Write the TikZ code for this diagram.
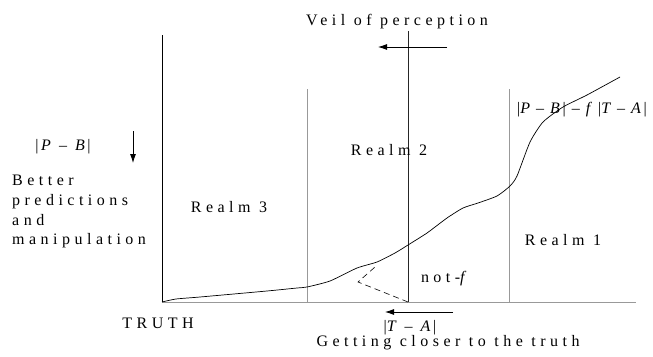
\documentclass[tikz,border=0pt]{standalone}
\usepackage{fontspec}
\setmainfont{Liberation Serif}
\newfontfamily\spacedfont[LetterSpace=28]{Liberation Serif}
\usetikzlibrary{arrows.meta}
\newcommand{\gapm}{\hspace{6pt}}
\begin{document}
\begin{tikzpicture}[x=1pt,y=-1pt,
    lbl/.style={font=\spacedfont\fontsize{16}{19}\selectfont, inner sep=0pt},
    mathlbl/.style={font=\fontsize{16}{19}\selectfont, inner sep=0pt},
    realmline/.style={black!40, line width=0.9pt},
    axisline/.style={black, line width=0.9pt},
    move/.style={-{Latex[length=9pt,width=6pt]}, line width=0.8pt}]
  \useasboundingbox (0,0) rectangle (653,356);
  % axes
  \coordinate (origin) at (162,302);
  \coordinate (ytop) at (162,35);
  \coordinate (xend) at (636,302);
  \draw[axisline] (ytop) -- (origin);
  \draw[realmline] (origin) -- (xend);
  % realm boundaries
  \coordinate (b3top) at (307,89);
  \coordinate (b3bot) at (307,302);
  \coordinate (b1top) at (509,89);
  \coordinate (b1bot) at (509,302);
  \draw[realmline] (b3top) -- (b3bot);
  \draw[realmline] (b1top) -- (b1bot);
  % veil of perception
  \coordinate (veiltop) at (408,31);
  \coordinate (veilbot) at (408,302);
  \draw[line width=1pt, black!85] (veiltop) -- (veilbot);
  \node[lbl] (veil) at (397,22) {Veil of perception};
  \coordinate (veilfrom) at (447,47);
  \coordinate (veilto) at (378,47);
  \draw[move] (veilfrom) -- (veilto);
  % curve
  \draw[line width=0.7pt] plot[smooth, tension=0.35] coordinates {
    (162,302) (176,299) (200,297) (267,291) (297,288) (307,287)
    (330,281) (357,268) (377,262) (395,253) (408,245) (427,233)
    (447,218) (463,208) (478,203) (497,196) (510,186) (517,176)
    (530,142) (543,122) (563,107) (587,95) (620,77)};
  % not-f
  \coordinate (nfa) at (358,282);
  \coordinate (nfb) at (375,267);
  \draw[dashed, dash pattern=on 6pt off 4pt, line width=0.6pt] (veilbot) -- (nfa) -- (nfb);
  \node[lbl] (notf) at (446,279) {not-\textit{f}};
  % realms
  \node[lbl] (realm3) at (229,207) {Realm 3};
  \node[lbl] (realm2) at (389,150) {Realm 2};
  \node[lbl] (realm1) at (563,240) {Realm 1};
  \node[mathlbl] (fmix) at (582,110) {|\textit{P}\gapm–\gapm\textit{B}\,|\gapm–\gapm\textit{f}\gapm|\textit{T}\gapm–\gapm\textit{A}\,|};
  % left side
  \node[mathlbl] (pb) at (63,147) {|\,\textit{P}\enspace–\enspace\textit{B}\,|};
  \coordinate (pbfrom) at (133,131);
  \coordinate (pbto) at (133,163);
  \draw[move] (pbfrom) -- (pbto);
  \node[lbl, align=left, anchor=north west, font=\spacedfont\fontsize{16}{19.7}\selectfont] (better) at (12,175) {Better\\predictions\\and\\manipulation};
  % bottom
  \node[lbl] (truth) at (158,323) {TRUTH};
  \coordinate (tafrom) at (453,312);
  \coordinate (tato) at (385,312);
  \draw[move] (tafrom) -- (tato);
  \node[mathlbl] (ta) at (410,328) {|\textit{T}\enspace–\enspace\textit{A}\,|};
  \node[lbl] (closer) at (448,343) {Getting closer to the truth};
\end{tikzpicture}
\end{document}
